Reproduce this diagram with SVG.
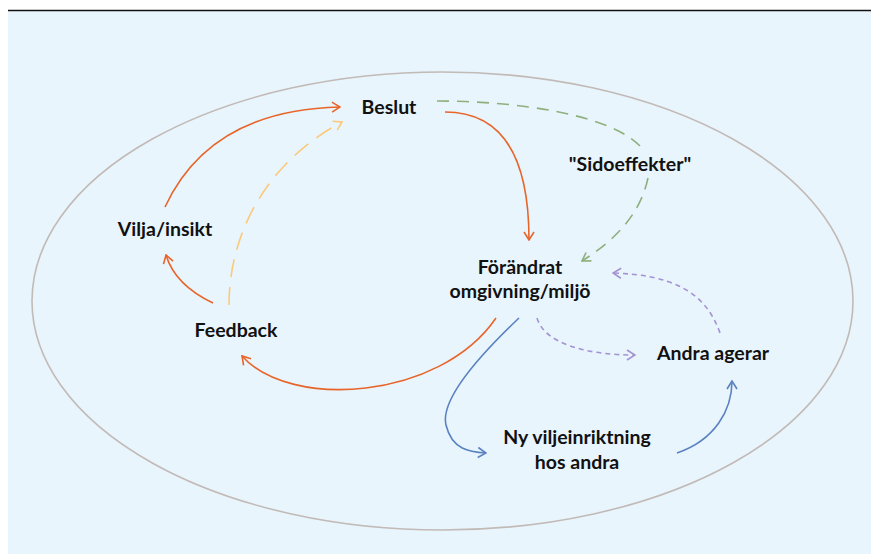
<svg xmlns="http://www.w3.org/2000/svg" width="871" height="555" viewBox="0 0 871 555">
  <style>
    .lbl { font-family: Lato, "Open Sans", "Liberation Sans", sans-serif; font-weight: 700; font-size: 19.5px; fill: #111; text-anchor: middle; }
    .c { fill: none; stroke-width: 1.6; stroke-linecap: butt; }
    .or { stroke: #e8652a; }
    .ye { stroke: #fcc97b; stroke-dasharray: 18 10; }
    .gr { stroke: #8fb07c; stroke-dasharray: 12 8; }
    .bl { stroke: #5b82c0; }
    .pu { stroke: #a492d2; stroke-dasharray: 5 4; }
  </style>
  <defs>
    <marker id="a-or" viewBox="0 0 10 12" refX="9" refY="6" markerWidth="10" markerHeight="12" markerUnits="userSpaceOnUse" orient="auto">
      <path d="M1,1 L9,6 L1,11" fill="none" stroke="#e8652a" stroke-width="1.6"/>
    </marker>
    <marker id="a-ye" viewBox="0 0 10 12" refX="9" refY="6" markerWidth="10" markerHeight="12" markerUnits="userSpaceOnUse" orient="auto">
      <path d="M1,1 L9,6 L1,11" fill="none" stroke="#fcc97b" stroke-width="1.6"/>
    </marker>
    <marker id="a-gr" viewBox="0 0 10 12" refX="9" refY="6" markerWidth="10" markerHeight="12" markerUnits="userSpaceOnUse" orient="auto">
      <path d="M1,1 L9,6 L1,11" fill="none" stroke="#8fb07c" stroke-width="1.6"/>
    </marker>
    <marker id="a-bl" viewBox="0 0 10 12" refX="9" refY="6" markerWidth="10" markerHeight="12" markerUnits="userSpaceOnUse" orient="auto">
      <path d="M1,1 L9,6 L1,11" fill="none" stroke="#5b82c0" stroke-width="1.6"/>
    </marker>
    <marker id="a-pu" viewBox="0 0 10 12" refX="9" refY="6" markerWidth="10" markerHeight="12" markerUnits="userSpaceOnUse" orient="auto">
      <path d="M1,1 L9,6 L1,11" fill="none" stroke="#a492d2" stroke-width="1.6"/>
    </marker>
  </defs>

  <!-- panel and top rule -->
  <rect x="8" y="11" width="863" height="543" fill="#e8f5fd"/>
  <line x1="8" y1="10.5" x2="871" y2="10.5" stroke="#111" stroke-width="1.6"/>

  <!-- enclosing ellipse -->
  <ellipse cx="442.5" cy="301" rx="410.5" ry="229" fill="none" stroke="#c2bab6" stroke-width="1.6"/>

  <g id="connectors">
    <path class="c or" d="M165,207 Q210,110 340,107" marker-end="url(#a-or)"/>
    <path class="c ye" d="M229,305 C229,230 270,160 342,122" marker-end="url(#a-ye)"/>
    <path class="c or" d="M213,303 Q175,285 166,255" marker-end="url(#a-or)"/>
    <path class="c or" d="M445,112 C510,112 529,170 529,240" marker-end="url(#a-or)"/>
    <path class="c gr" d="M437,101 C520,101 610,115 640,146"/>
    <path class="c gr" d="M648,178 C640,215 615,240 582,261" marker-end="url(#a-gr)"/>
    <path class="c or" d="M496,318 C440,400 290,410 242,356" marker-end="url(#a-or)"/>
    <path class="c bl" d="M519,318 C480,355 440,400 446,425 S470,452 486,453" marker-end="url(#a-bl)"/>
    <path class="c bl" d="M677,453 C715,440 732,410 732,381" marker-end="url(#a-bl)"/>
    <path class="c pu" d="M537,318 C545,345 590,355 635,355" marker-end="url(#a-pu)"/>
    <path class="c pu" d="M720,333 C705,290 670,275 613,273" marker-end="url(#a-pu)"/>
  </g>

  <g id="beslut"><text class="lbl" x="389" y="114">Beslut</text></g>
  <g id="sidoeffekter"><text class="lbl" x="630" y="171">"Sidoeffekter"</text></g>
  <g id="vilja"><text class="lbl" x="165" y="236">Vilja/insikt</text></g>
  <g id="feedback"><text class="lbl" x="236" y="337">Feedback</text></g>
  <g id="forandrat"><text class="lbl" x="520" y="274">Förändrat</text><text class="lbl" x="520" y="298">omgivning/miljö</text></g>
  <g id="andra-agerar"><text class="lbl" x="713" y="360">Andra agerar</text></g>
  <g id="ny-viljeinriktning"><text class="lbl" x="577" y="444">Ny viljeinriktning</text><text class="lbl" x="577" y="469">hos andra</text></g>
</svg>
